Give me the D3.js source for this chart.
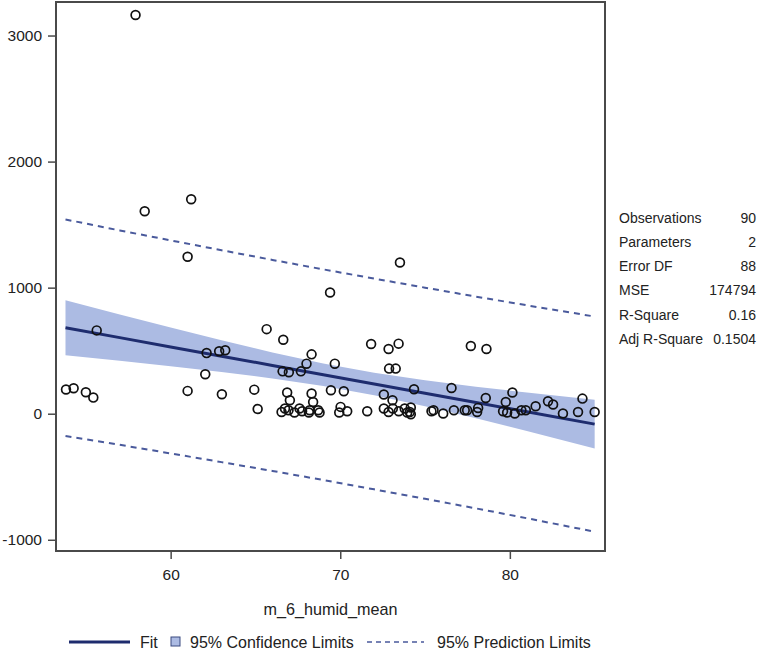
<!DOCTYPE html>
<html>
<head>
<meta charset="utf-8">
<script src="https://cdn.jsdelivr.net/npm/d3@7"></script>
<style>
  html, body { margin: 0; padding: 0; background: #fff; }
  svg { display: block; font-family: "Liberation Sans", Arial, sans-serif; }
</style>
</head>
<body>
<svg id="chart" width="758" height="653"></svg>
<script>
// ---- data ----
const humidX = [53.83, 54.28, 55.0, 55.44, 55.64, 57.93, 58.47, 61.0, 61.21, 61.0,
  62.04, 62.12, 62.86, 63.22, 63.02, 64.93, 65.13, 65.66, 66.64, 66.6,
  66.97, 66.87, 67.03, 66.74, 66.54, 66.95, 67.3, 67.6, 67.75, 67.68,
  68.01, 68.31, 68.31, 68.4, 68.2, 68.7, 68.78, 68.15, 69.4, 69.68,
  69.45, 70.21, 70.02, 69.94, 70.41, 71.59, 71.82, 72.85, 73.44, 73.52,
  72.88, 73.27, 72.57, 73.08, 72.57, 72.85, 73.1, 73.45, 73.8, 74.1,
  74.16, 74.16, 74.35, 75.38, 75.5, 76.07, 76.56, 76.7, 77.34, 77.48,
  77.7, 78.07, 78.13, 78.58, 78.62, 79.6, 79.84, 79.76, 80.15, 80.29,
  80.68, 80.94, 81.52, 82.25, 82.55, 83.13, 84.02, 84.28, 85.0, 73.95];
const responseY = [192, 202, 170, 128, 661, 3163, 1606, 1245, 1701, 181,
  313, 481, 495, 503, 154, 191, 38, 671, 587, 336,
  329, 168, 107, 41, 14, 28, 10, 41, 20, 336,
  397, 471, 160, 93, 28, 28, 10, 10, 962, 397,
  186, 178, 54, 10, 20, 20, 553, 513, 556, 1200,
  358, 358, 152, 107, 41, 14, 41, 20, 41, 14,
  49, -4, 194, 20, 28, 2, 204, 28, 28, 28,
  537, 14, 46, 125, 513, 20, 10, 93, 168, 2,
  28, 28, 59, 99, 73, 2, 14, 120, 14, 10];

// fit and limits evaluated at these humidity values
const limitX    = [53.8, 57, 60, 63, 66, 69, 72, 75, 78, 81, 85];
const fitY      = [682, 603.5, 530, 456.5, 383, 309.5, 236, 162.5, 89, 15.5, -82.5];
const clLower   = [464, 420, 377, 331, 280, 220, 147, 60, -36, -137, -276];
const clUpper   = [900, 787, 683, 582, 486, 399, 325, 265, 214, 168, 111];
const plLower   = [-177, -247, -315, -384, -454, -526, -600, -675, -751, -829, -936];
const plUpper   = [1541, 1454, 1375, 1297, 1220, 1145, 1072, 1000, 929, 860, 771];

const xTicks = [60, 70, 80];
const yTicks = [-1000, 0, 1000, 2000, 3000];
const xLabel = "m_6_humid_mean";

const statLabels = ["Observations", "Parameters", "Error DF", "MSE", "R-Square", "Adj R-Square"];
const statValues = ["90", "2", "88", "174794", "0.16", "0.1504"];

const legendLabels = ["Fit", "95% Confidence Limits", "95% Prediction Limits"];

// ---- drawing ----
const svg = d3.select("#chart");
const pLeft = 56, pRight = 605, pTop = 2, pBottom = 551;
const navy = "#1e2c6e", band = "#acbbe3", dashCol = "#4a5a9c", frameCol = "#4a4a4a", textCol = "#222";

const x = d3.scaleLinear().domain([53.24, 85.61]).range([pLeft, pRight]);
const y = d3.scaleLinear().domain([-1089, 3266]).range([pBottom, pTop]);

const plot = svg.append("g");

// confidence band
const bandData = limitX.map((v, i) => ({x: v, lo: clLower[i], hi: clUpper[i]}));
plot.append("path")
  .datum(bandData)
  .attr("fill", band)
  .attr("d", d3.area().x(d => x(d.x)).y0(d => y(d.lo)).y1(d => y(d.hi)));

// prediction limits
[plLower, plUpper].forEach(arr => {
  plot.append("path")
    .datum(limitX.map((v, i) => [v, arr[i]]))
    .attr("fill", "none")
    .attr("stroke", dashCol)
    .attr("stroke-width", 2)
    .attr("stroke-dasharray", "6,5")
    .attr("d", d3.line().x(d => x(d[0])).y(d => y(d[1])));
});

// fit line
plot.append("path")
  .datum(limitX.map((v, i) => [v, fitY[i]]))
  .attr("fill", "none")
  .attr("stroke", navy)
  .attr("stroke-width", 3)
  .attr("d", d3.line().x(d => x(d[0])).y(d => y(d[1])));

// points
plot.selectAll("circle.pt")
  .data(humidX.map((v, i) => [v, responseY[i]]))
  .join("circle")
  .attr("class", "pt")
  .attr("cx", d => x(d[0]))
  .attr("cy", d => y(d[1]))
  .attr("r", 4.4)
  .attr("fill", "none")
  .attr("stroke", "#111")
  .attr("stroke-width", 1.7);

// frame
svg.append("rect")
  .attr("x", pLeft).attr("y", pTop)
  .attr("width", pRight - pLeft).attr("height", pBottom - pTop)
  .attr("fill", "none").attr("stroke", frameCol).attr("stroke-width", 2);

// axes
const plainFmt = d => String(d);
const yAxis = svg.append("g")
  .attr("transform", `translate(${pLeft},0)`)
  .call(d3.axisLeft(y).tickValues(yTicks).tickSize(8).tickPadding(6).tickFormat(plainFmt));
const xAxis = svg.append("g")
  .attr("transform", `translate(0,${pBottom})`)
  .call(d3.axisBottom(x).tickValues(xTicks).tickSize(8).tickPadding(10).tickFormat(plainFmt));
[xAxis, yAxis].forEach(g => {
  g.select(".domain").remove();
  g.selectAll(".tick line").attr("stroke", frameCol).attr("stroke-width", 1.5);
  g.selectAll(".tick text").attr("fill", textCol).style("font-size", "15.5px")
    .style("font-family", '"Liberation Sans", Arial, sans-serif');
});

// x label
svg.append("text")
  .attr("x", (pLeft + pRight) / 2).attr("y", 615)
  .attr("text-anchor", "middle")
  .attr("fill", textCol).style("font-size", "16.2px")
  .text(xLabel);

// stats table
const st = svg.append("g").style("font-size", "14px").attr("fill", textCol);
statLabels.forEach((lab, i) => {
  const yy = 222.5 + i * 24.3;
  st.append("text").attr("x", 619).attr("y", yy).text(lab);
  st.append("text").attr("x", 756).attr("y", yy).attr("text-anchor", "end").text(statValues[i]);
});

// legend
const ly = 642;
const lg = svg.append("g").style("font-size", "16px").attr("fill", textCol);
lg.append("line").attr("x1", 69).attr("x2", 130).attr("y1", ly).attr("y2", ly)
  .attr("stroke", navy).attr("stroke-width", 3);
lg.append("text").attr("x", 140).attr("y", ly + 5.5).text(legendLabels[0]);
lg.append("rect").attr("x", 171).attr("y", ly - 5).attr("width", 9).attr("height", 9)
  .attr("fill", band).attr("stroke", "#3a4a80").attr("stroke-width", 1);
lg.append("text").attr("x", 190).attr("y", ly + 5.5).text(legendLabels[1]);
lg.append("line").attr("x1", 367).attr("x2", 424).attr("y1", ly).attr("y2", ly)
  .attr("stroke", dashCol).attr("stroke-width", 1.5).attr("stroke-dasharray", "5,4");
lg.append("text").attr("x", 437).attr("y", ly + 5.5).text(legendLabels[2]);
</script>
</body>
</html>
